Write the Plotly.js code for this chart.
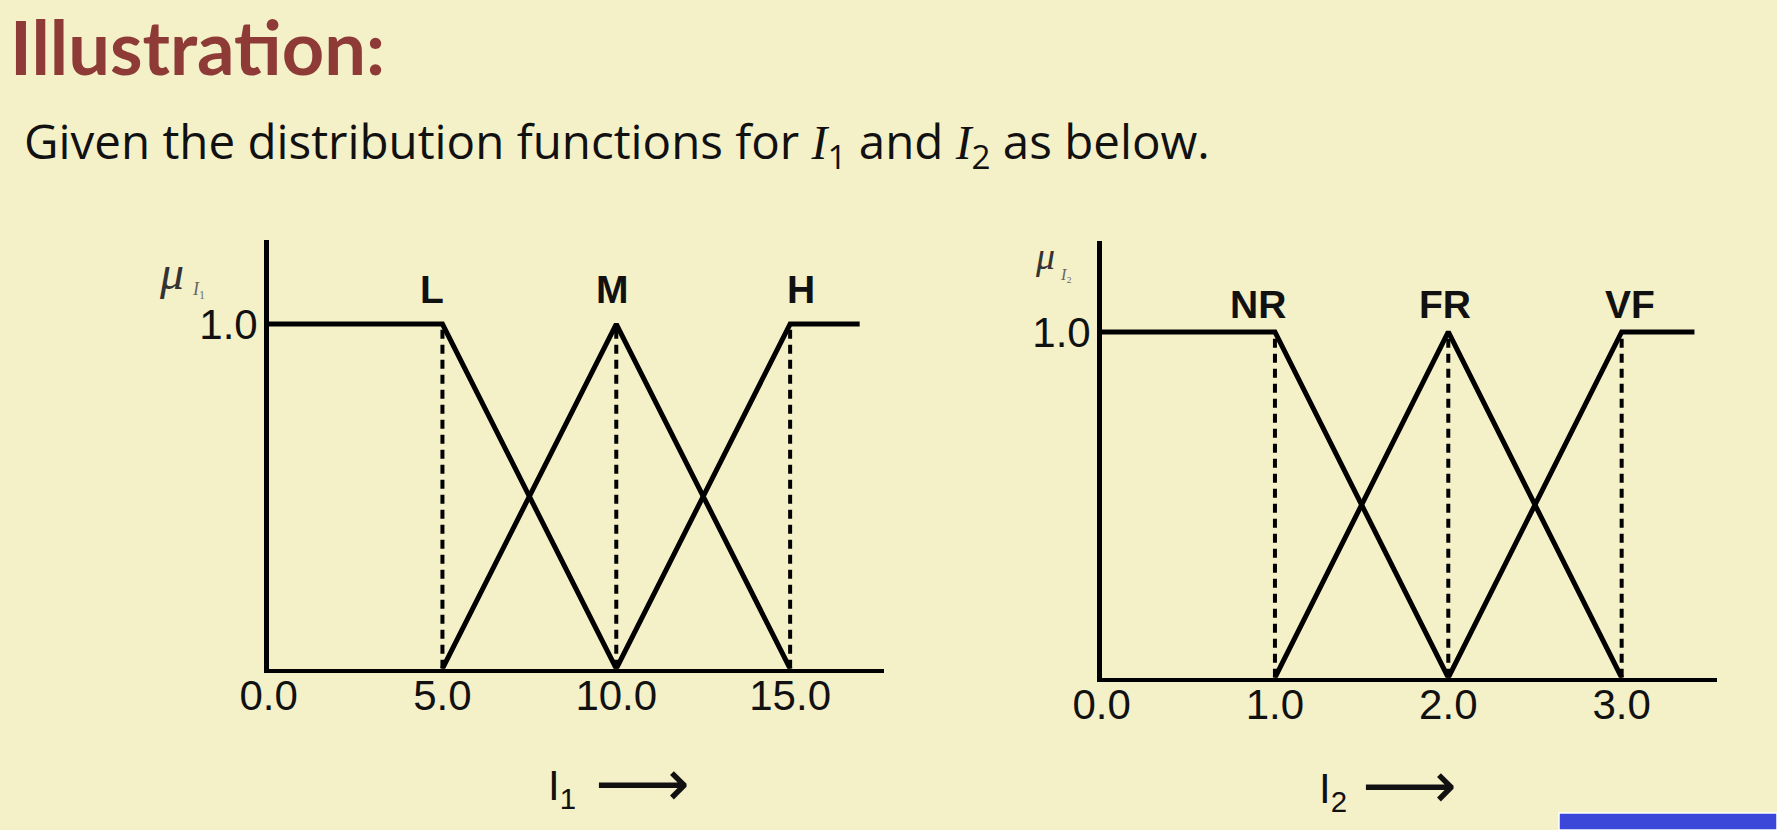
<!DOCTYPE html>
<html>
<head>
<meta charset="utf-8">
<script src="https://cdn.plot.ly/plotly-3.0.1.min.js"></script>
<style>
  html, body { margin: 0; padding: 0; background: #F4F0C8; }
  #chart { width: 1777px; height: 830px; }
</style>
</head>
<body>
<div id="chart"></div>
<script>
// ---- data: membership functions for I1 ----
const i1TickVals = [0, 5, 10, 15];
const i1TickText = ['0.0', '5.0', '10.0', '15.0'];
const i1SetNames = ['L', 'M', 'H'];
const i1L_x = [0, 5, 10];
const i1L_y = [1, 1, 0];
const i1M_x = [5, 10, 15];
const i1M_y = [0, 1, 0];
const i1H_x = [10, 15, 17];
const i1H_y = [0, 1, 1];
const i1Peaks = [5, 10, 15];

// ---- data: membership functions for I2 ----
const i2TickVals = [0, 1, 2, 3];
const i2TickText = ['0.0', '1.0', '2.0', '3.0'];
const i2SetNames = ['NR', 'FR', 'VF'];
const i2NR_x = [0, 1, 2];
const i2NR_y = [1, 1, 0];
const i2FR_x = [1, 2, 3];
const i2FR_y = [0, 1, 0];
const i2VF_x = [2, 3, 3.42];
const i2VF_y = [0, 1, 1];
const i2Peaks = [1, 2, 3];

const yTickVals = [1];
const yTickText = ['1.0'];

// ---- styling ----
const W = 1777, H = 830;
const BG = '#F4F0C8';
const SANS = "'Liberation Sans', Arial, sans-serif";
const px = v => v / W;
const py = v => 1 - v / H;

function solid(x, y, xa, ya) {
  return { x, y, xaxis: xa, yaxis: ya, type: 'scatter', mode: 'lines',
           line: { color: '#000', width: 5 }, hoverinfo: 'skip' };
}
function dashed(xv, xa, ya) {
  return { x: [xv, xv], y: [0, 1], xaxis: xa, yaxis: ya, type: 'scatter', mode: 'lines',
           line: { color: '#000', width: 4, dash: '9px,6px' }, hoverinfo: 'skip' };
}

const traces = [
  ...i1Peaks.map(p => dashed(p, 'x', 'y')),
  solid(i1L_x, i1L_y, 'x', 'y'),
  solid(i1M_x, i1M_y, 'x', 'y'),
  solid(i1H_x, i1H_y, 'x', 'y'),
  ...i2Peaks.map(p => dashed(p, 'x2', 'y2')),
  solid(i2NR_x, i2NR_y, 'x2', 'y2'),
  solid(i2FR_x, i2FR_y, 'x2', 'y2'),
  solid(i2VF_x, i2VF_y, 'x2', 'y2')
];

const tickFont = { family: SANS, size: 42, color: '#111' };
function xAxis(domain, range, vals, text, anchor) {
  return { domain, range, anchor, tickvals: vals, ticktext: text, tickfont: tickFont,
           showgrid: false, zeroline: false, showline: true, linecolor: '#000', linewidth: 4.5,
           ticks: '', ticklabelstandoff: -14, fixedrange: true };
}
function yAxis(domain, range, anchor) {
  return { domain, range, anchor, tickvals: yTickVals, ticktext: yTickText, tickfont: tickFont,
           showgrid: false, zeroline: false, showline: true, linecolor: '#000', linewidth: 4.5,
           ticks: '', ticklabelstandoff: -2, fixedrange: true };
}

const labelFont = { family: SANS, size: 39, color: '#111', weight: 'bold' };
const labelPos1 = [4.7, 9.9, 15.3];
const labelPos2 = [0.9, 1.98, 3.05];

const annotations = [
  { text: 'Illustration:', xref: 'paper', yref: 'paper', x: px(8), y: py(47),
    xanchor: 'left', yanchor: 'middle', showarrow: false,
    font: { family: 'Lato, sans-serif', size: 74, color: '#8E3A36', weight: 'bold' } },
  { text: "Given the distribution functions for <span style=\"font-family:'Liberation Serif';font-style:italic\">I</span><sub>1</sub> and <span style=\"font-family:'Liberation Serif';font-style:italic\">I</span><sub>2</sub> as below.",
    xref: 'paper', yref: 'paper', x: px(22), y: py(143),
    xanchor: 'left', yanchor: 'middle', showarrow: false,
    font: { family: "'Open Sans', sans-serif", size: 47.5, color: '#111' } },
  // mu labels
  { text: '<i>μ</i>', xref: 'paper', yref: 'paper', x: px(171), y: py(272),
    xanchor: 'center', yanchor: 'middle', showarrow: false,
    font: { family: "'Liberation Serif', serif", size: 48, color: '#333' } },
  { text: '<i>I</i>₁', xref: 'paper', yref: 'paper', x: px(198), y: py(289),
    xanchor: 'center', yanchor: 'middle', showarrow: false,
    font: { family: "'Liberation Serif', serif", size: 18, color: '#666' } },
  { text: '<i>μ</i>', xref: 'paper', yref: 'paper', x: px(1045), y: py(256),
    xanchor: 'center', yanchor: 'middle', showarrow: false,
    font: { family: "'Liberation Serif', serif", size: 38, color: '#333' } },
  { text: '<i>I</i>₂', xref: 'paper', yref: 'paper', x: px(1066), y: py(274),
    xanchor: 'center', yanchor: 'middle', showarrow: false,
    font: { family: "'Liberation Serif', serif", size: 16, color: '#666' } },
  // axis titles
  { text: "I<sub>1</sub>", xref: 'paper', yref: 'paper', x: px(562), y: py(788), xanchor: 'center', yanchor: 'middle',
    showarrow: false, font: { family: SANS, size: 42, color: '#111' } },
  { text: "⟶", xref: 'paper', yref: 'paper', x: px(642), y: py(783), xanchor: 'center', yanchor: 'middle',
    showarrow: false, font: { family: "'DejaVu Sans', sans-serif", size: 66, color: '#111' } },
  { text: "I<sub>2</sub>", xref: 'paper', yref: 'paper', x: px(1333), y: py(791), xanchor: 'center', yanchor: 'middle',
    showarrow: false, font: { family: SANS, size: 42, color: '#111' } },
  { text: "⟶", xref: 'paper', yref: 'paper', x: px(1409), y: py(785), xanchor: 'center', yanchor: 'middle',
    showarrow: false, font: { family: "'DejaVu Sans', sans-serif", size: 66, color: '#111' } },
  ...i1SetNames.map((n, i) => ({ text: n, xref: 'x', yref: 'y', x: labelPos1[i], y: 1.10,
    showarrow: false, xanchor: 'center', yanchor: 'middle', font: labelFont })),
  ...i2SetNames.map((n, i) => ({ text: n, xref: 'x2', yref: 'y2', x: labelPos2[i], y: 1.08,
    showarrow: false, xanchor: 'center', yanchor: 'middle', font: labelFont }))
];

const layout = {
  width: W, height: H,
  margin: { l: 0, r: 0, t: 0, b: 0 },
  paper_bgcolor: BG, plot_bgcolor: 'rgba(0,0,0,0)',
  showlegend: false, hovermode: false,
  xaxis: xAxis([268.6 / W, 884 / W], [0, 17.7], i1TickVals, i1TickText, 'y'),
  yaxis: yAxis([(H - 668.7) / H, (H - 240.3) / H], [0, 1.243], 'x'),
  xaxis2: xAxis([1101.6 / W, 1717 / W], [0, 3.55], i2TickVals, i2TickText, 'y2'),
  yaxis2: yAxis([(H - 677.7) / H, (H - 241.4) / H], [0, 1.262], 'x2'),
  annotations,
  shapes: [
    { type: 'rect', xref: 'paper', yref: 'paper', x0: px(1559), x1: 1, y0: 0, y1: py(813),
      fillcolor: '#3B47D9', line: { color: '#FFFFFF', width: 1.5 } }
  ]
};

Plotly.newPlot('chart', traces, layout, { staticPlot: true, displayModeBar: false });
</script>
</body>
</html>
